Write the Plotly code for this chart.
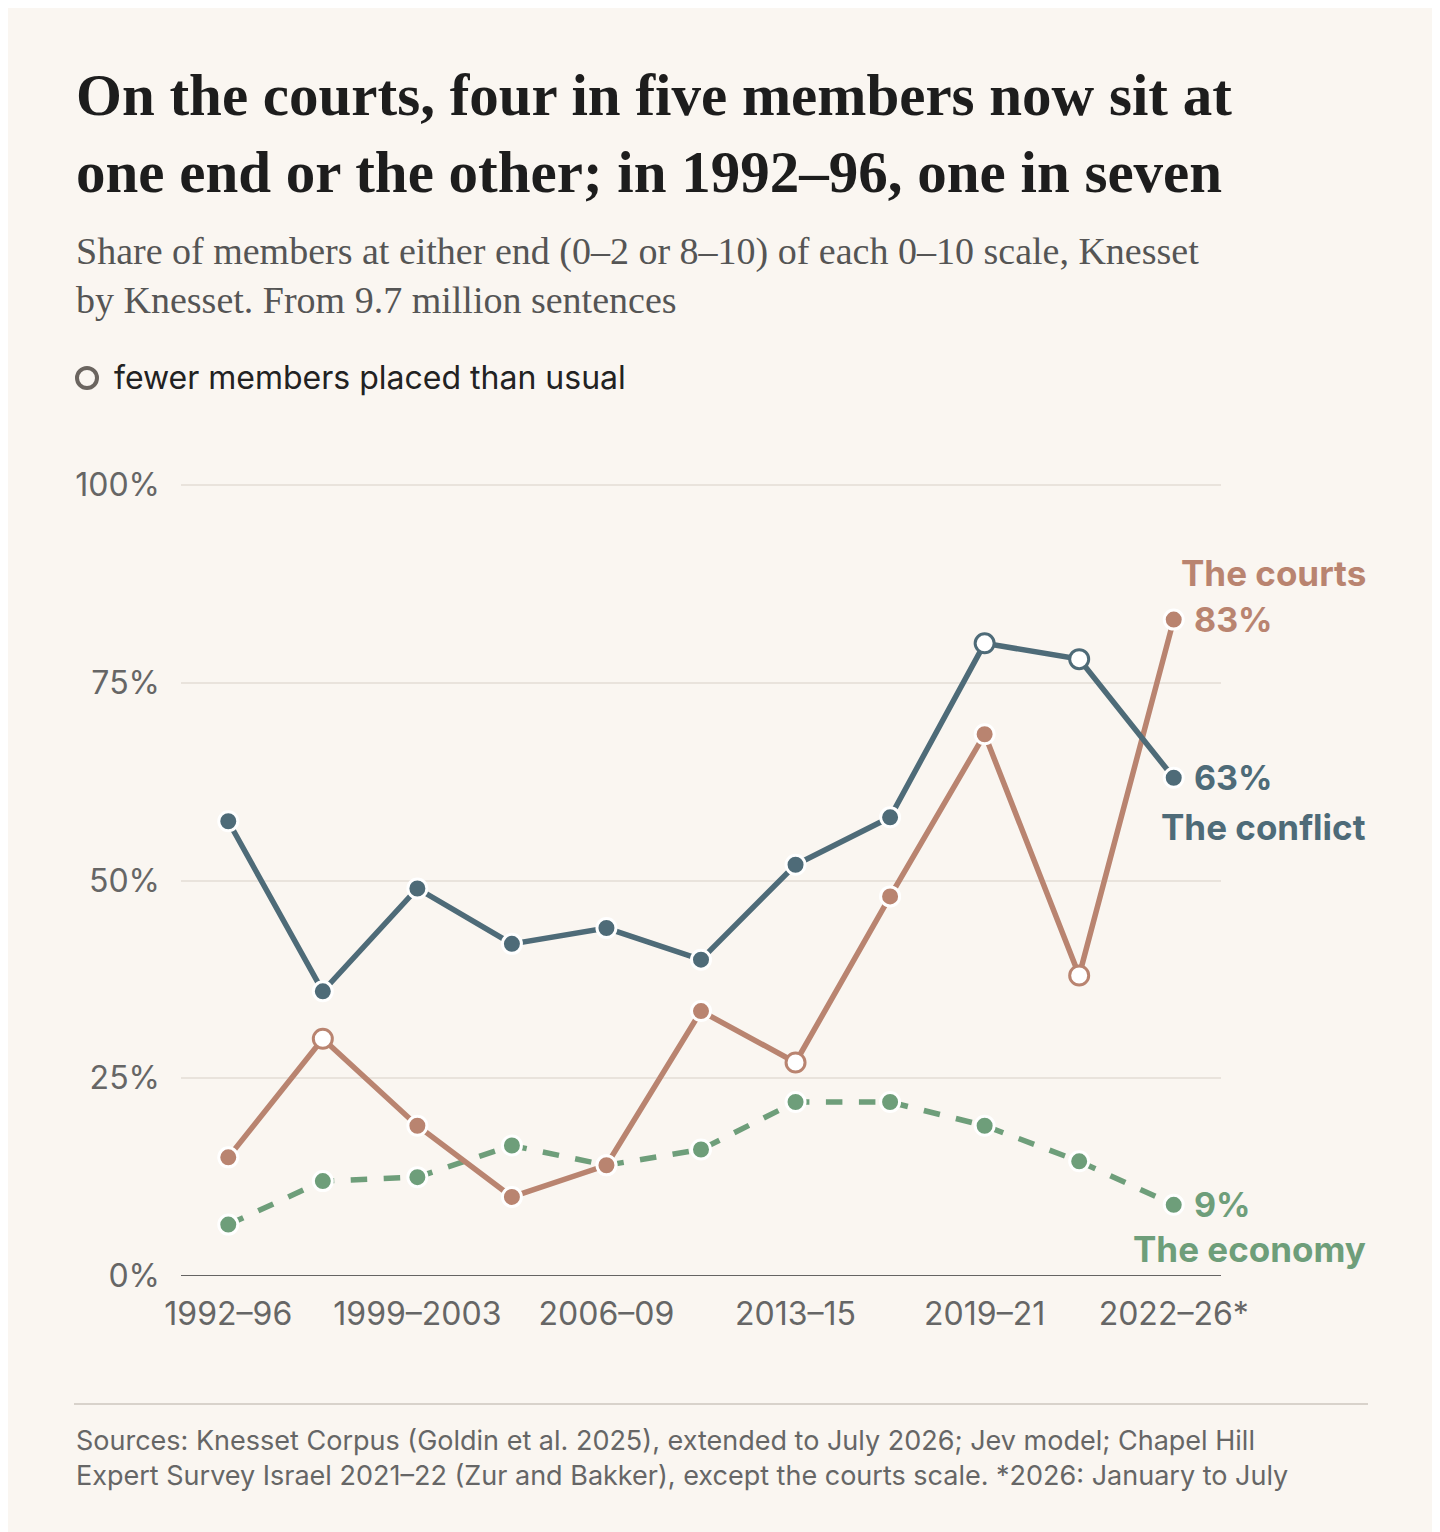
import plotly.graph_objects as go

# Knesset periods (only every other one gets a tick label)
periods = ["1992–96", "1996–99", "1999–2003", "2003–06", "2006–09", "2009–13",
           "2013–15", "2015–19", "2019–21", "2021–22", "2022–26*"]
tick_labels = ["1992–96", "", "1999–2003", "", "2006–09", "", "2013–15", "", "2019–21", "", "2022–26*"]
y_ticks = [0, 25, 50, 75, 100]
y_tick_labels = ["0%", "25%", "50%", "75%", "100%"]

conflict = [57.5, 36, 49, 42, 44, 40, 52, 58, 80, 78, 63]
courts = [15, 30, 19, 10, 14, 33.5, 27, 48, 68.5, 38, 83]
economy = [6.5, 12, 12.5, 16.5, 14, 16, 22, 22, 19, 14.5, 9]

# indices where fewer members were placed than usual
conflict_open = [8, 9]
courts_open = [1, 6, 9]
economy_open = []

BG = "#FAF6F1"
C_CONFLICT = "#4E6B78"
C_COURTS = "#B98470"
C_ECONOMY = "#6E9E7A"
SANS = "Inter, Roboto, sans-serif"
SERIF = "Liberation Serif, serif"

W, H = 1440, 1532
L, R, T, B = 173, 1213, 474, 1268


def px(x):
    return (x - L) / (R - L)


def py(y):
    return (B - y) / (B - T)


def series(name, vals, color, open_idx, dash):
    fills = ["white" if i in open_idx else color for i in range(len(vals))]
    lines = [color if i in open_idx else "white" for i in range(len(vals))]
    return go.Scatter(
        x=list(range(len(vals))), y=vals, name=name, mode="lines+markers",
        line=dict(color=color, width=5.5, dash=dash),
        marker=dict(size=19, color=fills, line=dict(color=lines, width=3)),
        hoverinfo="y+name", showlegend=False,
    )


fig = go.Figure()
fig.add_trace(series("The economy", economy, C_ECONOMY, economy_open, "dash"))
fig.add_trace(series("The courts", courts, C_COURTS, courts_open, "solid"))
fig.add_trace(series("The conflict", conflict, C_CONFLICT, conflict_open, "solid"))

ann = []
# titles
ann.append(dict(text="<b>On the courts, four in five members now sit at<br>one end or the other; in 1992–96, one in seven</b>",
                x=px(66), y=py(52), xanchor="left", yanchor="top", align="left",
                font=dict(family=SERIF, size=59, color="#1d1d1d")))
ann.append(dict(text="Share of members at either end (0–2 or 8–10) of each 0–10 scale, Knesset<br>by Knesset. From 9.7 million sentences",
                x=px(66), y=py(220), xanchor="left", yanchor="top", align="left",
                font=dict(family=SERIF, size=38, color="#555555")))
ann.append(dict(text="fewer members placed than usual", x=px(104), y=py(370),
                xanchor="left", yanchor="middle", font=dict(family=SANS, size=32, color="#222")))
ann.append(dict(text="Sources: Knesset Corpus (Goldin et al. 2025), extended to July 2026; Jev model; Chapel Hill<br>Expert Survey Israel 2021–22 (Zur and Bakker), except the courts scale. *2026: January to July",
                x=px(66), y=py(1414), xanchor="left", yanchor="top", align="left",
                font=dict(family=SANS, size=27, color="#666")))
for a in ann:
    a.update(xref="paper", yref="paper", showarrow=False)

# end labels
ends = [
    (courts[-1], f"{courts[-1]:.0f}%", "The courts", C_COURTS, 47),
    (conflict[-1], f"{conflict[-1]:.0f}%", "The conflict", C_CONFLICT, -49),
    (economy[-1], f"{economy[-1]:.0f}%", "The economy", C_ECONOMY, -44),
]
for val, pct, name, col, shift in ends:
    ann.append(dict(x=10, y=val, xref="x", yref="y", text=f"<b>{pct}</b>", showarrow=False,
                    xanchor="left", xshift=18, font=dict(family=SANS, size=34, color=col)))
    ann.append(dict(x=px(1360), y=val, xref="paper", yref="y", text=f"<b>{name}</b>", showarrow=False,
                    xanchor="right", yshift=shift, font=dict(family=SANS, size=35, color=col)))

shapes = [
    dict(type="circle", xref="paper", yref="paper",
         x0=px(69), x1=px(89), y0=py(380), y1=py(360),
         line=dict(color="#6b6560", width=4), fillcolor=BG),
    dict(type="line", xref="paper", yref="paper", x0=px(66), x1=px(1360), y0=py(1396), y1=py(1396),
         line=dict(color="#d8d2cb", width=2)),
    dict(type="line", xref="paper", yref="y", x0=0, x1=1, y0=0, y1=0, line=dict(color="#333", width=1.5)),
]

fig.update_layout(
    width=W, height=H, paper_bgcolor=BG, plot_bgcolor=BG,
    margin=dict(l=L, r=W - R, t=T, b=H - B, pad=0),
    annotations=ann, shapes=shapes,
    xaxis=dict(range=[-0.5, 10.5], tickvals=list(range(len(periods))), ticktext=tick_labels,
               showgrid=False, zeroline=False, showline=False, ticks="",
               ticklabelstandoff=16,
               tickfont=dict(family=SANS, size=32, color="#666")),
    yaxis=dict(range=[0, 100.4], tickvals=y_ticks, ticktext=y_tick_labels,
               gridcolor="#e9e3dc", gridwidth=1.5, zeroline=False, showline=False,
               ticklabelstandoff=20, tickfont=dict(family=SANS, size=32, color="#666")),
)

fig.write_html("out.html")
